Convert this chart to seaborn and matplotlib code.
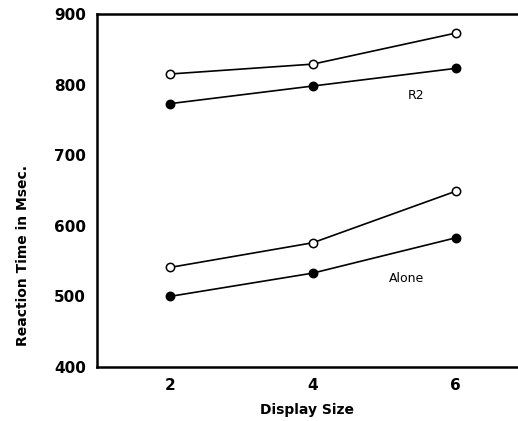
import numpy as np
import pandas as pd
import matplotlib
matplotlib.use("Agg")
import matplotlib.pyplot as plt
import seaborn as sns

# data
display_size = [2, 4, 6]
r2_open = [815, 829, 873]
r2_filled = [773, 798, 823]
alone_open = [541, 576, 649]
alone_filled = [500, 533, 583]

sns.set_style("white")
plt.rcParams["font.family"] = ["DejaVu Sans"]
plt.rcParams["text.color"] = "black"
plt.rcParams["axes.labelcolor"] = "black"
plt.rcParams["xtick.color"] = "black"
plt.rcParams["ytick.color"] = "black"

fig = plt.figure(figsize=(5.18, 4.21), dpi=100)
ax = fig.add_axes([97 / 518, 1 - 367 / 421, 1 - 97 / 518, (367 - 14) / 421])

series = [
    (r2_open, "white"),
    (r2_filled, "black"),
    (alone_open, "white"),
    (alone_filled, "black"),
]
for vals, face in series:
    sns.lineplot(x=display_size, y=vals, ax=ax, color="black", linewidth=1.2,
                 marker="o", markersize=6, markerfacecolor=face,
                 markeredgecolor="black", markeredgewidth=1.1)

ax.text(5.45, 784, "R2", fontsize=9, ha="center", va="center")
ax.text(5.31, 526, "Alone", fontsize=9, ha="center", va="center")

ax.set_xlim(0.98, 6.87)
ax.set_ylim(400, 900)
ax.set_xticks(display_size)
ax.set_yticks([400, 500, 600, 700, 800, 900])
ax.tick_params(direction="in", length=4, width=1.2, labelsize=11, pad=8)
for lab in ax.get_xticklabels() + ax.get_yticklabels():
    lab.set_fontweight("bold")
ax.set_xlabel("Display Size", fontsize=10, fontweight="bold", labelpad=7)
ax.set_ylabel("Reaction Time in Msec.", fontsize=10, fontweight="bold")
# the label sits below the middle of the axis in the original
ax.yaxis.set_label_coords(-0.159, 0.317)

for s in ["left", "bottom", "top"]:
    ax.spines[s].set_linewidth(1.8)
    ax.spines[s].set_color("black")
ax.spines["right"].set_visible(False)

fig.savefig("out.png", dpi=100)
